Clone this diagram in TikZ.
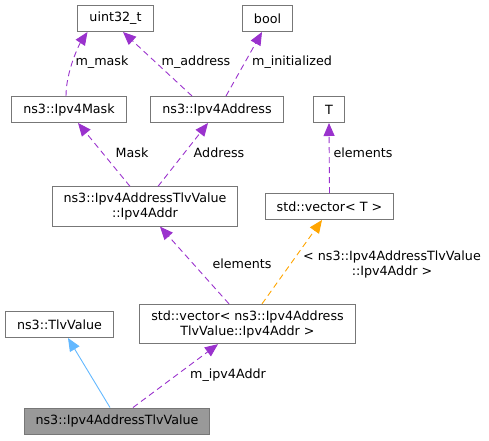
\documentclass[tikz,border=0pt]{standalone}
\usepackage{fontspec}
\setmainfont{DejaVu Sans}
\usetikzlibrary{arrows.meta}
\definecolor{edgepurple}{HTML}{9A32CD}
\definecolor{edgeorange}{HTML}{FFA500}
\definecolor{edgeblue}{HTML}{63B8FF}
\definecolor{boxgray}{HTML}{777777}

\begin{document}
\begin{tikzpicture}
      [x=1pt,y=-1pt
      ,font=\fontsize{12.7}{15}\selectfont
      ,cls/.style={rectangle,draw=boxgray,fill=white,line width=1pt,inner xsep=11.5pt,inner ysep=6pt,minimum height=26pt,align=center}
      ,dep/.style={color=edgepurple,line width=0.9pt,dash pattern=on 6pt off 4pt,-{Triangle[length=13pt,width=11pt]}}
      ,tpl/.style={dep,color=edgeorange}
      ,inh/.style={color=edgeblue,line width=0.9pt,-{Triangle[length=13pt,width=11pt]}}
      ,lbl/.style={inner sep=0,align=center}]
        \useasboundingbox (0,0) rectangle (489,440);
        \node[cls] (u)  at (115.5,18.5)  {uint32\_t};
        \node[cls] (b)  at (267.5,18.5)  {bool};
        \node[cls] (mk) at (69,109.5)  {ns3::Ipv4Mask};
        \node[cls] (ad) at (217,109.5) {ns3::Ipv4Address};
        \node[cls] (t)  at (329,109.5) {T};
        \node[cls] (ia) at (145,206.5) {ns3::Ipv4AddressTlvValue\\::Ipv4Addr};
        \node[cls] (vt) at (329.5,206.5) {std::vector\textless{} T \textgreater};
        \node[cls] (v)  at (247.5,324) {std::vector\textless{} ns3::Ipv4Address\\TlvValue::Ipv4Addr \textgreater};
        \node[cls] (tv) at (59.5,324.5)  {ns3::TlvValue};
        \node[cls,fill=black!40] (m) at (117,421) {ns3::Ipv4AddressTlvValue};

        \draw[dep] ([xshift=-3pt]mk.north) .. controls +(0,-25) and +(-8,12) .. ([xshift=-28pt]u.south);
        \draw[dep] ([xshift=-25pt]ad.north) -- ([xshift=7.5pt]u.south);
        \draw[dep] ([xshift=9pt]ad.north) -- ([xshift=-5.5pt]b.south);
        \draw[dep] ([xshift=-15pt]ia.north) -- ([xshift=9pt]mk.south);
        \draw[dep] ([xshift=13pt]ia.north) -- ([xshift=-9pt]ad.south);
        \draw[dep] (vt.north) -- (t.south);
        \draw[dep] ([xshift=-18.5pt]v.north) -- ([xshift=15pt]ia.south);
        \draw[tpl] ([xshift=14.5pt]v.north) -- ([xshift=-7.5pt]vt.south);
        \draw[inh] ([xshift=-7pt]m.north) -- ([xshift=8.5pt]tv.south);
        \draw[dep] ([xshift=16pt]m.north) -- ([xshift=-29.5pt]v.south);

        \node[lbl] (lmask)  at (102,62)  {m\_mask};
        \node[lbl] (laddr)  at (196,62)  {m\_address};
        \node[lbl] (linit)  at (292,62)  {m\_initialized};
        \node[lbl] (lMask)  at (132,153) {Mask};
        \node[lbl] (lAddr)  at (219,153) {Address};
        \node[lbl] (lelT)   at (363,153) {elements};
        \node[lbl] (lel)    at (242,264) {elements};
        \node[lbl] (ltpl)   at (392,264.5) {\textless{} ns3::Ipv4AddressTlvValue\\::Ipv4Addr \textgreater};
        \node[lbl] (lipv4)  at (228,375) {m\_ipv4Addr};
      \end{tikzpicture}
\end{document}
